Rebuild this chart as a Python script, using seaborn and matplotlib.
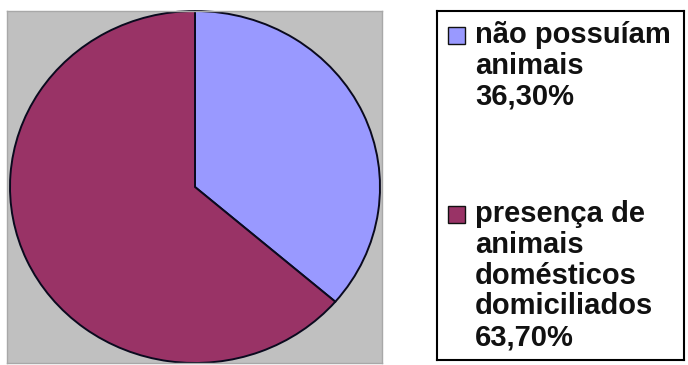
import matplotlib
matplotlib.use("Agg")
import matplotlib.pyplot as plt
import seaborn as sns
from matplotlib.patches import Rectangle

# Share of households by presence of domestic animals
categories = ["não possuíam animais", "presença de animais domésticos domiciliados"]
shares = [36.3, 63.7]
legend_lines = [
    ["não possuíam", "animais"],
    ["presença de", "animais", "domésticos", "domiciliados"],
]
colors = ["#9999FF", "#993366"]

sns.set_theme(style="white")
plt.rcParams["font.family"] = ["Liberation Sans", "DejaVu Sans"]

W, H = 688, 365
fig = plt.figure(figsize=(W / 100, H / 100), dpi=100)
fig.patch.set_facecolor("white")


def px_axes(x0, y0, x1, y1):
    """Axes placed by pixel box (origin top-left)."""
    return fig.add_axes([x0 / W, 1 - y1 / H, (x1 - x0) / W, (y1 - y0) / H])


# --- pie on a grey plot area ---
ax = px_axes(7, 11, 382, 363)
wedges, _ = ax.pie(
    shares,
    colors=colors,
    startangle=90,
    counterclock=False,
    wedgeprops=dict(edgecolor="#0a0a1e", linewidth=1.4),
)
for w in wedges:
    w.set_clip_on(False)
ax.set_aspect("auto")
rx, ry = 185, 176          # pie radii in pixels
cx, cy = 195, 187          # pie centre in pixels
ax.set_xlim((7 - cx) / rx, (382 - cx) / rx)
ax.set_ylim(-(363 - cy) / ry, (cy - 11) / ry)
ax.set_frame_on(True)
ax.set_facecolor("#C0C0C0")
for s in ax.spines.values():
    s.set_color("#a8a8a8")
    s.set_linewidth(1)

# --- legend box ---
lg = px_axes(437, 11, 684, 360)
lg.set_xlim(0, 247)
lg.set_ylim(349, 0)
lg.set_xticks([])
lg.set_yticks([])
lg.set_facecolor("white")
for s in lg.spines.values():
    s.set_color("black")
    s.set_linewidth(1.5)

first_baseline = [32, 211]
pitch = 30.8
for lines, share, color, base in zip(legend_lines, shares, colors, first_baseline):
    lg.add_patch(Rectangle((11, base - 16), 17, 17, facecolor=color,
                           edgecolor="#111111", linewidth=1.0))
    text_lines = lines + [f"{share:.2f}%".replace(".", ",")]
    for k, line in enumerate(text_lines):
        lg.text(38, base + k * pitch, line, fontsize=21, fontweight="bold",
                color="#111111", va="baseline", ha="left")

fig.savefig("out.png", dpi=100)
